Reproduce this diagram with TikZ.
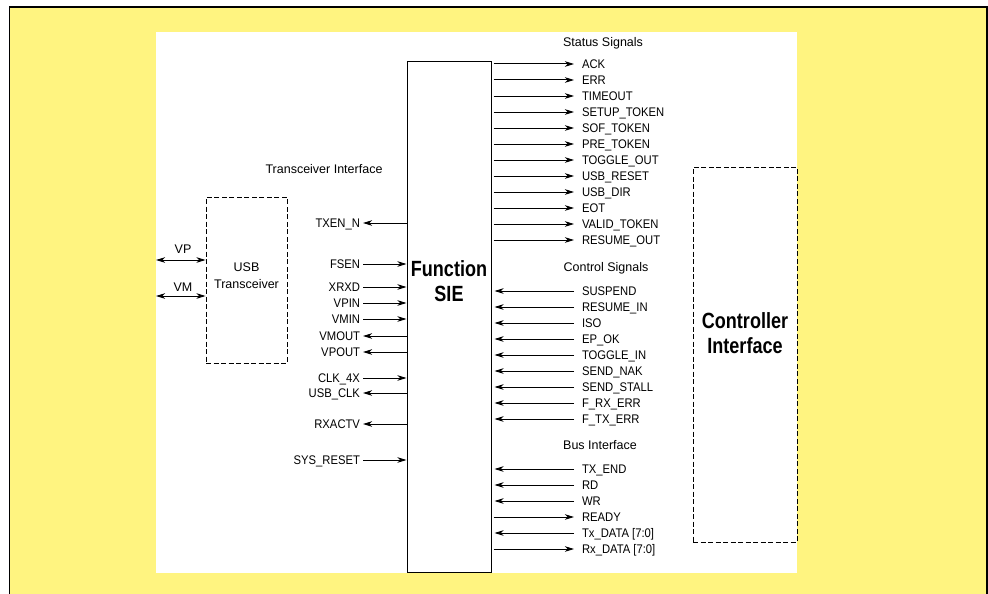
\documentclass[tikz,border=0pt]{standalone}
\usepackage{fontspec}
\setmainfont{Liberation Sans}
\newfontfamily\labfont[FakeStretch=0.9]{Liberation Sans}
\newfontfamily\bigfont[FakeStretch=0.82]{Liberation Sans}
\usetikzlibrary{arrows.meta}
\definecolor{bgyellow}{HTML}{FFF480}
\begin{document}
\begin{tikzpicture}[x=1pt,y=-1pt,
  sig/.style={font=\labfont\fontsize{12.5}{14}\selectfont, inner xsep=0pt, inner ysep=0pt, text height=9pt, text depth=0pt},
  rsig/.style={sig, anchor=west, outer xsep=8pt},
  lsig/.style={sig, anchor=east, outer xsep=3pt},
  head/.style={font=\fontsize{12.5}{14}\selectfont, inner sep=0pt, text height=9pt, text depth=0pt},
  conn/.style={line width=1pt, -{Stealth[length=9pt,width=5.5pt,inset=2.5pt]}},
  dconn/.style={line width=1pt, {Stealth[length=9pt,width=5.5pt,inset=2.5pt]}-{Stealth[length=9pt,width=5.5pt,inset=2.5pt]}},
  dashbox/.style={draw, dash pattern=on 5pt off 2.5pt, line width=0.9pt},
  solidbox/.style={draw, line width=1pt},
  bigtxt/.style={font=\bigfont\bfseries\fontsize{22}{25}\selectfont, inner sep=0pt, text height=16pt, text depth=0pt}
]
\useasboundingbox (0,0) rectangle (988,594);
\fill[white] (0,0) rectangle (988,594);
\filldraw[fill=bgyellow, draw=black, line width=1.2pt] (9.5,7) rectangle (987,600);
\fill[white] (156,32) rectangle (797,573);

% main blocks
\node[solidbox, minimum width=84, minimum height=510, inner sep=0pt] (sie) at (449,317) {};
\node[bigtxt] (siet1) at (449,268) {Function};
\node[bigtxt] (siet2) at (449,293) {SIE};

\node[dashbox, minimum width=81, minimum height=166, inner sep=0pt] (usb) at (246.5,280) {};
\node[head] (usbt1) at (246.5,267) {USB};
\node[head] (usbt2) at (246.5,284) {Transceiver};

\node[dashbox, minimum width=104, minimum height=375, inner sep=0pt] (ctl) at (745,354.5) {};
\node[bigtxt] (ctlt1) at (745,320) {Controller};
\node[bigtxt] (ctlt2) at (745,345) {Interface};

% headings
\node[head] (h1) at (603,42) {Status Signals};
\node[head] (h2) at (606,267) {Control Signals};
\node[head] (h3) at (600,445) {Bus Interface};
\node[head] (h4) at (324,169) {Transceiver Interface};

% VP / VM
\node[head] (vpl) at (183,249) {VP};
\node[head] (vml) at (183,287) {VM};
\coordinate (vpe) at (156,260);
\coordinate (vme) at (156,296);
\draw[dconn] (vpe) -- (usb.west |- vpe);
\draw[dconn] (vme) -- (usb.west |- vme);

% right side outputs
\foreach \n/\y/\t in {a1/64/ACK, a2/80/ERR, a3/96/TIMEOUT, a4/112/SETUP\_TOKEN, a5/128/SOF\_TOKEN, a6/144/PRE\_TOKEN, a7/160/TOGGLE\_OUT, a8/176/USB\_RESET, a9/192/USB\_DIR, a10/208/EOT, a11/224/VALID\_TOKEN, a12/240/RESUME\_OUT, b4/517/READY, b6/549/{Rx\_DATA [7:0]}}{
  \node[rsig] (\n) at (574,\y) {\t};
  \draw[conn, shorten <=2pt] (sie.east |- \n.west) -- (\n.west);
}
% right side inputs
\foreach \n/\y/\t in {c1/291/SUSPEND, c2/307/RESUME\_IN, c3/323/ISO, c4/339/EP\_OK, c5/355/TOGGLE\_IN, c6/371/SEND\_NAK, c7/387/SEND\_STALL, c8/403/F\_RX\_ERR, c9/419/F\_TX\_ERR, b1/469/TX\_END, b2/485/RD, b3/501/WR, b5/533/{Tx\_DATA [7:0]}}{
  \node[rsig] (\n) at (574,\y) {\t};
  \draw[conn, shorten >=3pt] (\n.west) -- (sie.east |- \n.west);
}
% left side inputs
\foreach \n/\y/\t in {l2/264/FSEN, l3/287/XRXD, l4/303/VPIN, l5/319/VMIN, l8/378/CLK\_4X, l11/460/SYS\_RESET}{
  \node[lsig] (\n) at (363,\y) {\t};
  \draw[conn] (\n.east) -- (sie.west |- \n.east);
}
% left side outputs
\foreach \n/\y/\t in {l1/223/TXEN\_N, l6/336/VMOUT, l7/352/VPOUT, l9/393/USB\_CLK, l10/424/RXACTV}{
  \node[lsig] (\n) at (363,\y) {\t};
  \draw[conn] (sie.west |- \n.east) -- (\n.east);
}
\end{tikzpicture}
\end{document}
